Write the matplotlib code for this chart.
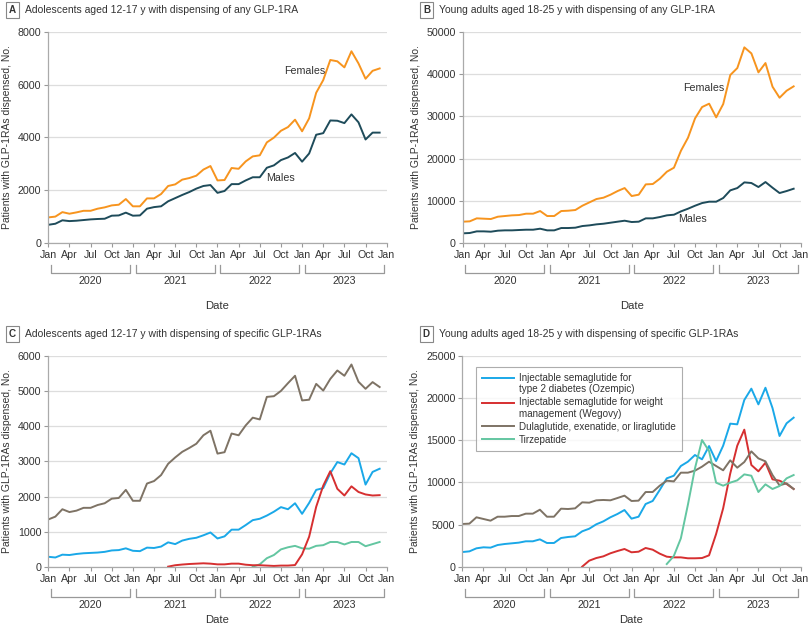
import matplotlib
matplotlib.use("Agg")
import matplotlib.pyplot as plt
import matplotlib.transforms as mtransforms
from matplotlib.legend_handler import HandlerLine2D
import numpy as np

plt.rcParams['font.family'] = ['Liberation Sans', 'DejaVu Sans']

# months Jan 2020 .. Dec 2023
months = np.arange(48)
tick_pos = np.arange(0, 49, 3)
tick_labels = ['Jan', 'Apr', 'Jul', 'Oct'] * 4 + ['Jan']
years = ['2020', '2021', '2022', '2023']

# panel A: adolescents, any GLP-1RA
a_females = [970, 1000, 1170, 1110, 1160, 1220, 1220, 1300, 1350, 1425, 1450, 1665,
             1390, 1390, 1690, 1690, 1855, 2160, 2220, 2400, 2460, 2550, 2780, 2915,
             2370, 2385, 2840, 2810, 3090, 3280, 3320, 3810, 3990, 4250, 4390, 4670,
             4230, 4720, 5690, 6170, 6930, 6880, 6650, 7260, 6800, 6220, 6520, 6610]
a_males = [690, 730, 860, 830, 845, 870, 895, 910, 920, 1035, 1045, 1150,
           1035, 1045, 1300, 1360, 1390, 1580, 1700, 1820, 1930, 2060, 2160, 2195,
           1900, 1970, 2230, 2230, 2370, 2490, 2490, 2850, 2940, 3140, 3240, 3410,
           3080, 3390, 4100, 4160, 4640, 4630, 4540, 4870, 4570, 3920, 4180, 4180]

# panel B: young adults, any GLP-1RA
b_females = [5050, 5130, 5840, 5760, 5680, 6230, 6390, 6550, 6620, 6940, 6940, 7570,
             6390, 6390, 7570, 7650, 7810, 8830, 9620, 10410, 10730, 11440, 12300, 13010,
             11120, 11440, 13880, 13960, 15220, 16880, 17820, 21850, 24920, 29500, 32180, 32970,
             29730, 32890, 39750, 41400, 46300, 44870, 40380, 42590, 36990, 34380, 36040, 37070]
b_males = [2290, 2370, 2760, 2760, 2680, 2920, 3000, 3000, 3080, 3150, 3150, 3390,
           3000, 3000, 3550, 3550, 3630, 4020, 4180, 4420, 4570, 4810, 5050, 5280,
           4970, 5050, 5840, 5840, 6150, 6550, 6700, 7490, 8120, 8830, 9460, 9780,
           9780, 10650, 12460, 13010, 14350, 14200, 13250, 14430, 13090, 11830, 12300, 12850]

# panel C: adolescents, specific GLP-1RAs (None = not on market)
c_ozempic = [290, 270, 350, 340, 370, 390, 400, 410, 430, 470, 480, 530,
             460, 450, 550, 540, 580, 700, 650, 750, 800, 830, 900, 980,
             810, 870, 1060, 1060, 1190, 1330, 1370, 1460, 1570, 1700, 1640, 1810,
             1510, 1820, 2190, 2240, 2660, 2980, 2910, 3230, 3090, 2340, 2700, 2790]
c_wegovy = [None] * 17 + [10, 50, 70, 85, 95, 105, 95,
                          75, 75, 95, 95, 65, 50, 50, 40, 30, 40, 40, 55,
                          360, 860, 1710, 2310, 2720, 2220, 2030, 2290, 2130, 2060, 2030, 2040]
c_other = [1350, 1430, 1640, 1560, 1600, 1680, 1680, 1760, 1810, 1940, 1960, 2190,
           1880, 1880, 2370, 2440, 2610, 2930, 3110, 3270, 3380, 3500, 3740, 3870,
           3220, 3260, 3790, 3740, 4020, 4240, 4190, 4830, 4850, 5000, 5220, 5430,
           4730, 4750, 5200, 5010, 5340, 5580, 5430, 5750, 5260, 5060, 5250, 5110]
c_tirzepatide = [None] * 29 + [10, 75, 250, 340, 500, 560, 600,
                               530, 520, 600, 620, 710, 710, 640, 710, 710, 590, 650, 710]

# panel D: young adults, specific GLP-1RAs
d_ozempic = [1770, 1850, 2210, 2330, 2290, 2600, 2720, 2800, 2880, 3040, 3040, 3270,
             2840, 2840, 3430, 3550, 3630, 4220, 4530, 5050, 5400, 5880, 6270, 6740,
             5720, 5950, 7450, 7810, 9110, 10490, 10800, 11950, 12460, 13250, 12740, 14310,
             12540, 14350, 16960, 16880, 19760, 21100, 19240, 21210, 18810, 15500, 17000, 17670]
d_wegovy = [None] * 17 + [40, 750, 1060, 1260, 1620, 1890, 2130,
                          1740, 1810, 2250, 2050, 1580, 1220, 1140, 1140, 1030, 1030, 1060, 1380,
                          3900, 6940, 11040, 14350, 16250, 12070, 11320, 12340, 10370, 10210, 9820, 9230]
d_other = [5090, 5130, 5880, 5680, 5480, 5950, 5950, 6030, 6030, 6310, 6310, 6780,
           5950, 5950, 6900, 6860, 6940, 7650, 7610, 7890, 7930, 7890, 8160, 8440,
           7810, 7850, 8870, 8870, 9620, 10210, 10130, 11160, 11160, 11400, 11870, 12460,
           11950, 11440, 12620, 11750, 12420, 13680, 12850, 12500, 10880, 9660, 9900, 9230]
d_tirzepatide = [None] * 29 + [350, 1300, 3390, 7370, 11670, 15020, 13720,
                               9980, 9620, 9980, 10250, 10960, 10800, 8870, 9780, 9230, 9580, 10490, 10880]

drug_labels = ['Injectable semaglutide for\ntype 2 diabetes (Ozempic)',
               'Injectable semaglutide for weight\nmanagement (Wegovy)',
               'Dulaglutide, exenatide, or liraglutide',
               'Tirzepatide']

ORANGE = '#F7941E'
TEAL = '#1E4B5A'
BLUE = '#1AA8E8'
RED = '#D62F30'
BROWN = '#7E7365'
GREEN = '#63C6A1'
DRUG_COLORS = [BLUE, RED, BROWN, GREEN]

TXT = '#333333'
FS = 7.7

fig = plt.figure(figsize=(8.1, 6.27), dpi=100)


class FirstLineHandler(HandlerLine2D):
    # put the legend line next to the first line of a two-line label
    def __init__(self, shift, **kw):
        super().__init__(**kw)
        self.shift = shift

    def create_artists(self, legend, orig_handle, xdescent, ydescent, width, height, fontsize, trans):
        arts = super().create_artists(legend, orig_handle, xdescent, ydescent, width, height, fontsize, trans)
        for a in arts:
            a.set_ydata(np.asarray(a.get_ydata(), dtype=float) + self.shift * fontsize)
        return arts


def series(vals):
    return np.array([np.nan if v is None else v for v in vals], dtype=float)


def setup(ax, ymax, ystep, letter, title, date_y):
    ax.set_xlim(0, 48)
    ax.set_ylim(0, ymax)
    ax.set_yticks(np.arange(0, ymax + 1, ystep))
    ax.set_yticklabels([str(int(v)) for v in np.arange(0, ymax + 1, ystep)])
    ax.set_xticks(tick_pos)
    ax.set_xticklabels(tick_labels)
    ax.tick_params(labelsize=FS, colors='#999999', labelcolor=TXT, length=3, width=0.8, pad=2)
    for s in ['top', 'right']:
        ax.spines[s].set_visible(False)
    for s in ['left', 'bottom']:
        ax.spines[s].set_color('#aaaaaa')
        ax.spines[s].set_linewidth(0.9)
    ax.grid(axis='y', color='#dddddd', linewidth=0.9)
    ax.set_axisbelow(True)
    ax.set_ylabel('Patients with GLP-1RAs dispensed, No.', fontsize=FS - 0.2, color=TXT, labelpad=4)

    # year brackets under the month labels
    trans = mtransforms.blended_transform_factory(ax.transData, ax.transAxes)
    y_top, y_bot = -0.105, -0.143
    for k, yr in enumerate(years):
        x0, x1 = 12 * k + 0.4, 12 * k + 11.6
        ax.plot([x0, x0, x1, x1], [y_top, y_bot, y_bot, y_top], transform=trans,
                color='#999999', linewidth=0.9, clip_on=False)
        ax.text(12 * k + 6, -0.178, yr, transform=trans, ha='center', va='center',
                fontsize=FS, color=TXT)
    ax.text(0.5, date_y, 'Date', transform=ax.transAxes, ha='center', va='center',
            fontsize=FS + 0.4, color=TXT)

    # panel letter in a box + title
    pos = ax.get_position()
    fx = pos.x0 - 0.049
    fy = pos.y1 + 0.035
    fig.text(fx, fy, letter, fontsize=FS - 0.6, fontweight='bold', color=TXT, ha='left', va='center',
             bbox=dict(boxstyle='square,pad=0.3', facecolor='white', edgecolor='#888888', linewidth=0.8))
    fig.text(fx + 0.02, fy, title, fontsize=FS - 0.2, color=TXT, ha='left', va='center')


axA = fig.add_axes([0.0596, 0.6124, 0.4178, 0.3370])
axB = fig.add_axes([0.5712, 0.6124, 0.4173, 0.3370])
axC = fig.add_axes([0.0596, 0.0957, 0.4178, 0.3370])
axD = fig.add_axes([0.5708, 0.0957, 0.4177, 0.3370])

setup(axA, 8000, 2000, 'A', 'Adolescents aged 12-17 y with dispensing of any GLP-1RA', -0.30)
setup(axB, 50000, 10000, 'B', 'Young adults aged 18-25 y with dispensing of any GLP-1RA', -0.30)
setup(axC, 6000, 1000, 'C', 'Adolescents aged 12-17 y with dispensing of specific GLP-1RAs', -0.25)
setup(axD, 25000, 5000, 'D', 'Young adults aged 18-25 y with dispensing of specific GLP-1RAs', -0.25)

LW = 1.4
axA.plot(months, a_females, color=ORANGE, linewidth=LW)
axA.plot(months, a_males, color=TEAL, linewidth=LW)
axA.text(36.4, 6500, 'Females', fontsize=FS, color=TXT, ha='center', va='center')
axA.text(32.9, 2460, 'Males', fontsize=FS, color=TXT, ha='center', va='center')

axB.plot(months, b_females, color=ORANGE, linewidth=LW)
axB.plot(months, b_males, color=TEAL, linewidth=LW)
axB.text(34.3, 36750, 'Females', fontsize=FS, color=TXT, ha='center', va='center')
axB.text(32.6, 5680, 'Males', fontsize=FS, color=TXT, ha='center', va='center')

for vals, col in zip([c_other, c_tirzepatide, c_ozempic, c_wegovy], [BROWN, GREEN, BLUE, RED]):
    axC.plot(months, series(vals), color=col, linewidth=LW)

d_sets = [d_ozempic, d_wegovy, d_other, d_tirzepatide]
handles = []
for vals, col, lab in zip(d_sets, DRUG_COLORS, drug_labels):
    h, = axD.plot(months, series(vals), color=col, linewidth=LW, label=lab)
    handles.append(h)
hmap = {h: FirstLineHandler(0.6) for h, lab in zip(handles, drug_labels) if '\n' in lab}
leg = axD.legend(handles=handles, handler_map=hmap, loc='upper left', bbox_to_anchor=(0.04, 0.948),
                 borderaxespad=0, fontsize=7.1, frameon=True, fancybox=False, handlelength=3.3,
                 handletextpad=0.5, labelspacing=0.3, borderpad=0.6)
leg.get_frame().set_edgecolor('#999999')
leg.get_frame().set_linewidth(0.8)
for t in leg.get_texts():
    t.set_color(TXT)

fig.savefig('out.png', dpi=100)
